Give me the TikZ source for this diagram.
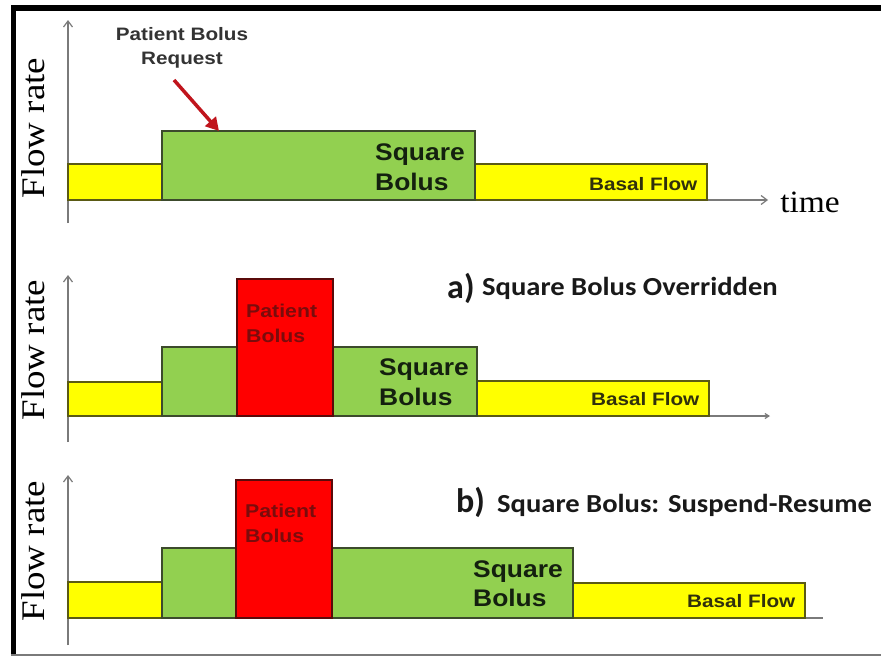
\documentclass[tikz,border=0pt]{standalone}
\usepackage{graphicx}
\usepackage{fontspec}
\setmainfont{Liberation Sans}
\newfontfamily\serifface{Liberation Serif}
\newfontfamily\calibface{Carlito}
\usetikzlibrary{arrows.meta}

\definecolor{basalfill}{HTML}{FFFF00}
\definecolor{basaledge}{HTML}{5A5A14}
\definecolor{sqfill}{HTML}{92D050}
\definecolor{sqedge}{HTML}{3C4A2C}
\definecolor{pbfill}{HTML}{FF0000}
\definecolor{pbedge}{HTML}{5A0A0A}
\definecolor{pbtext}{HTML}{7A0C0C}
\definecolor{axisgray}{HTML}{7A7A7A}
\definecolor{reqred}{HTML}{C0141C}
\definecolor{darktext}{HTML}{14200F}
\definecolor{basaltext}{HTML}{30300C}

\newcommand\widetext[2]{\scalebox{#1}[1]{#2}}

\begin{document}
\begin{tikzpicture}[x=1pt,y=-1pt,
  basalbar/.style={fill=basalfill,draw=basaledge,line width=1.6pt},
  squarebar/.style={fill=sqfill,draw=sqedge,line width=1.6pt},
  patientbar/.style={fill=pbfill,draw=pbedge,line width=1.6pt},
  axisline/.style={draw=axisgray,line width=1.2pt},
  axisarrow/.style={axisline,-{Straight Barb[length=6pt,width=9pt]}},
  ylabel/.style={rotate=90,inner sep=0pt,font=\serifface\fontsize{33}{33}\selectfont},
  barlabel/.style={anchor=base west,inner sep=0pt,text=darktext,font=\bfseries\fontsize{24}{24}\selectfont},
  basallabel/.style={anchor=base west,inner sep=0pt,text=basaltext,font=\bfseries\fontsize{18}{18}\selectfont},
  pblabel/.style={anchor=base west,inner sep=0pt,text=pbtext,font=\bfseries\fontsize{18.5}{18.5}\selectfont},
  reqlabel/.style={anchor=base,inner sep=0pt,text=black!80,font=\bfseries\fontsize{18}{18}\selectfont},
  casetag/.style={anchor=base west,inner sep=0pt,text=black!90,font=\calibface\bfseries\fontsize{34}{34}\selectfont},
  casetitle/.style={anchor=base west,inner sep=0pt,text=black!90,font=\calibface\bfseries\fontsize{26}{26}\selectfont},
  reqarrow/.style={draw=reqred,line width=3.5pt,-{Triangle[length=13pt,width=14pt]}}]

\useasboundingbox (0,0) rectangle (881,656);
\fill[white] (0,0) rectangle (881,656);

% outer frame
\fill[black] (11,5) rectangle (881,11);
\fill[black] (11,5) rectangle (16,656);
\draw[axisgray,line width=1.5pt] (11,655) -- (881,655);

% ---------- top chart: square bolus ----------
\draw[axisarrow] (68,223) -- (68,20);
\draw[axisarrow] (68,200) -- (768,200);
\path[basalbar] (68,164) rectangle (162,200);
\path[basalbar] (475,164) rectangle (707,200);
\path[squarebar] (162,131) rectangle (475,200);
\node[ylabel] (yl1) at (33,128) {\widetext{1.12}{Flow rate}};
\node[anchor=base,inner sep=0pt,font=\serifface\fontsize{31}{31}\selectfont] (tl1) at (810,212) {\widetext{1.08}{time}};
\node[barlabel] (sq1a) at (375,160) {\widetext{1.1}{Square}};
\node[barlabel] (sq1b) at (375,190) {\widetext{1.1}{Bolus}};
\node[basallabel] (bf1) at (589,190) {\widetext{1.15}{Basal Flow}};
\node[reqlabel] (req1) at (182,40) {\widetext{1.15}{Patient Bolus}};
\node[reqlabel] (req2) at (182,64) {\widetext{1.15}{Request}};
\coordinate (reqtail) at (174,80);
\coordinate (reqtip) at (219,131);
\draw[reqarrow] (reqtail) -- (reqtip);

% ---------- case a: square bolus overridden ----------
\draw[axisarrow] (68,442) -- (68,275);
\draw[axisline,-{Straight Barb[length=4pt,width=5pt]}] (68,416) -- (770,416);
\path[basalbar] (68,382) rectangle (162,416);
\path[basalbar] (477,381) rectangle (709,416);
\path[squarebar] (162,347) rectangle (237,416);
\path[squarebar] (333,347) rectangle (477,416);
\path[patientbar] (237,279) rectangle (333,416);
\node[ylabel] (yl2) at (33,350) {\widetext{1.12}{Flow rate}};
\node[pblabel] (pb2a) at (246,317) {\widetext{1.15}{Patient}};
\node[pblabel] (pb2b) at (246,342) {\widetext{1.15}{Bolus}};
\node[barlabel] (sq2a) at (379,375) {\widetext{1.1}{Square}};
\node[barlabel] (sq2b) at (379,405) {\widetext{1.1}{Bolus}};
\node[basallabel] (bf2) at (591,405) {\widetext{1.15}{Basal Flow}};
\node[casetag] (tag2) at (447,298) {a)};
\node[casetitle] (ttl2) at (482,295) {\widetext{1.1}{Square Bolus Overridden}};

% ---------- case b: square bolus suspend-resume ----------
\draw[axisarrow] (68,645) -- (68,475);
\draw[axisline] (68,618) -- (823,618);
\path[basalbar] (68,582) rectangle (162,618);
\path[basalbar] (573,583) rectangle (805,618);
\path[squarebar] (162,548) rectangle (236,618);
\path[squarebar] (332,548) rectangle (573,618);
\path[patientbar] (236,480) rectangle (332,618);
\node[ylabel] (yl3) at (33,551) {\widetext{1.12}{Flow rate}};
\node[pblabel] (pb3a) at (245,517) {\widetext{1.15}{Patient}};
\node[pblabel] (pb3b) at (245,542) {\widetext{1.15}{Bolus}};
\node[barlabel] (sq3a) at (473,577) {\widetext{1.1}{Square}};
\node[barlabel] (sq3b) at (473,606) {\widetext{1.1}{Bolus}};
\node[basallabel] (bf3) at (687,607) {\widetext{1.15}{Basal Flow}};
\node[casetag] (tag3) at (456,512) {b)};
\node[casetitle] (ttl3) at (497,512) {\widetext{1.1}{Square Bolus: Suspend-Resume}};

\end{tikzpicture}
\end{document}
